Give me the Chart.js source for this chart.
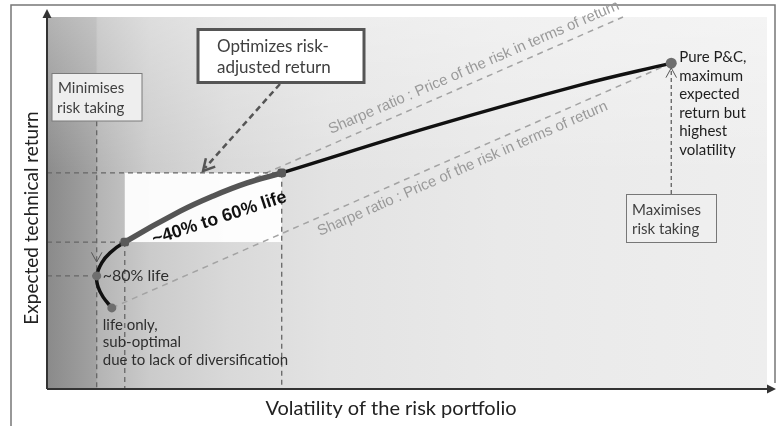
<!DOCTYPE html>
<html>
<head>
<meta charset="utf-8">
<script src="https://cdn.jsdelivr.net/npm/chart.js@4.4.1/dist/chart.umd.min.js"></script>
<style>
    html, body { margin: 0; padding: 0; background: #ffffff; }
    #wrap { width: 783px; height: 426px; position: relative; }
</style>
</head>
<body>
<div id="wrap"><canvas id="frontierChart"></canvas></div>
<script>
// Titik-titik kurva frontier (satuan abstrak 0-100, tanpa tick)
const frontierVol = [9.0, 7.8, 7.1, 6.9, 7.6, 8.75, 10.8, 18.5, 23.1, 27.8, 32.6, 53.2, 74.0, 86.7];
const frontierRet = [21.8, 24.7, 27.4, 30.4, 33.9, 36.6, 39.5, 47.8, 51.9, 55.4, 58.1, 70.4, 81.7, 87.6];
// Indeks titik penting pada kurva
const IDX_LIFE = 0, IDX_80 = 3, IDX_40 = 6, IDX_60 = 10, IDX_PC = 13;

// Garis Sharpe ratio (atas dan bawah)
const sharpeHighVol = [26.1, 80.0];
const sharpeHighRet = [54.4, 100.0];
const sharpeLowVol = [9.0, 86.7];
const sharpeLowRet = [21.8, 87.6];

// Garis bantu putus-putus
const guideVol = [6.9, 10.8, 32.6];
const guideRet = [30.4, 39.5, 58.1];
const guideVolTop = [72.0, 39.5, 58.1];
const pcGuideRet = [52.4, 86.3];

const FONT = 'Lato, "Open Sans", sans-serif';

const pts = (xs, ys) => xs.map((v, i) => ({ x: v, y: ys[i] }));
const inMid = i => i >= IDX_40 && i < IDX_60;

const datasets = [];

// Kurva utama, bagian 40%-60% lebih tebal dan abu-abu
datasets.push({
    data: pts(frontierVol, frontierRet),
    showLine: true,
    tension: 0.4,
    order: 0,
    clip: false,
    borderColor: '#111111',
    borderWidth: 3.5,
    segment: {
        borderColor: c => inMid(c.p0DataIndex) ? '#555555' : '#111111',
        borderWidth: c => inMid(c.p0DataIndex) ? 5.5 : 3.5
    },
    pointRadius: frontierVol.map((_, i) => [IDX_LIFE, IDX_80].includes(i) ? 4.5 : ([IDX_40, IDX_60].includes(i) ? 5 : (i === IDX_PC ? 5.5 : 0))),
    pointStyle: frontierVol.map((_, i) => [IDX_40, IDX_60].includes(i) ? 'rectRounded' : 'circle'),
    pointBackgroundColor: frontierVol.map((_, i) => [IDX_40, IDX_60].includes(i) ? '#595959' : '#6e6e6e'),
    pointBorderWidth: 0
});

// Garis Sharpe ratio
[[sharpeHighVol, sharpeHighRet], [sharpeLowVol, sharpeLowRet]].forEach(([xs, ys]) => {
    datasets.push({
        data: pts(xs, ys), showLine: true, order: 3, clip: false,
        borderColor: '#a3a3a3', borderWidth: 1.5, borderDash: [6, 5], pointRadius: 0
    });
});

// Garis bantu horizontal dan vertikal
guideVol.forEach((v, i) => {
    datasets.push({
        data: [{ x: 0, y: guideRet[i] }, { x: v, y: guideRet[i] }], showLine: true, order: 2,
        borderColor: '#666666', borderWidth: 1.3, borderDash: [5, 4], pointRadius: 0
    });
    datasets.push({
        data: [{ x: v, y: guideVolTop[i] }, { x: v, y: 0 }], showLine: true, order: 2,
        borderColor: '#666666', borderWidth: 1.3, borderDash: [5, 4], pointRadius: 0
    });
});
datasets.push({
    data: pcGuideRet.map(r => ({ x: frontierVol[IDX_PC], y: r })), showLine: true, order: 2,
    borderColor: '#555555', borderWidth: 1.2, borderDash: [4, 3], pointRadius: 0
});

// Latar gradien dan area putih untuk rentang 40%-60%
const backdrop = {
    id: 'backdrop',
    beforeDatasetsDraw(chart) {
        const { ctx, chartArea: a, scales: { x, y } } = chart;
        ctx.save();
        const w = a.right - a.left;
        const g = ctx.createLinearGradient(a.left, 0, a.right, 0);
        const stop = px => Math.min(1, Math.max(0, (px - a.left) / w));
        g.addColorStop(0, '#8a8a8a');
        g.addColorStop(stop(x.getPixelForValue(guideVol[0]) - 1), '#a2a2a2');
        g.addColorStop(stop(x.getPixelForValue(guideVol[0]) + 1), '#b4b4b4');
        g.addColorStop(stop(150), '#cbcbcb');
        g.addColorStop(stop(230), '#d9d9d9');
        g.addColorStop(stop(330), '#e3e3e3');
        g.addColorStop(stop(500), '#e9e9e9');
        g.addColorStop(1, '#eeeeee');
        ctx.fillStyle = g;
        ctx.fillRect(a.left, a.top, w, a.bottom - a.top);
        const v = ctx.createLinearGradient(0, a.top, 0, a.top + 160);
        v.addColorStop(0, 'rgba(255,255,255,0.35)');
        v.addColorStop(1, 'rgba(255,255,255,0)');
        ctx.fillStyle = v;
        ctx.fillRect(a.left, a.top, w, 160);

        const x0 = x.getPixelForValue(frontierVol[IDX_40]);
        const x1 = x.getPixelForValue(frontierVol[IDX_60]);
        const y0 = y.getPixelForValue(frontierRet[IDX_40]);
        const y1 = y.getPixelForValue(frontierRet[IDX_60]);
        ctx.fillStyle = 'rgba(255,255,255,0.93)';
        ctx.fillRect(x0, y1, x1 - x0, y0 - y1);

        // Bingkai luar gambar
        ctx.strokeStyle = '#777777';
        ctx.lineWidth = 1.5;
        ctx.beginPath();
        ctx.moveTo(11, 426); ctx.lineTo(11, 5); ctx.lineTo(775, 5); ctx.lineTo(775, 383);
        ctx.stroke();
        ctx.restore();
    }
};

// Menggambar panah terbuka berbentuk V.
function openArrow(ctx, tx, ty, angle, len) {
    const s = 0.5;
    ctx.beginPath();
    ctx.moveTo(tx - len * Math.cos(angle - s), ty - len * Math.sin(angle - s));
    ctx.lineTo(tx, ty);
    ctx.lineTo(tx - len * Math.cos(angle + s), ty - len * Math.sin(angle + s));
    ctx.stroke();
}

function rotText(ctx, text, px, py, deg) {
    ctx.save();
    ctx.translate(px, py);
    ctx.rotate(deg * Math.PI / 180);
    ctx.fillText(text, 0, 0);
    ctx.restore();
}

function box(ctx, bx, by, bw, bh, fill, stroke, lw) {
    ctx.fillStyle = fill;
    ctx.fillRect(bx, by, bw, bh);
    ctx.strokeStyle = stroke;
    ctx.lineWidth = lw;
    ctx.strokeRect(bx, by, bw, bh);
}

// Label, kotak keterangan dan sumbu dengan panah
const annotations = {
    id: 'annotations',
    afterDatasetsDraw(chart) {
        const { ctx, chartArea: a, scales: { x, y } } = chart;
        ctx.save();

        // Teks Sharpe ratio sejajar garis
        ctx.fillStyle = '#999999';
        ctx.font = '15px "Liberation Sans", Arial, sans-serif';
        ctx.textAlign = 'left';
        ctx.textBaseline = 'alphabetic';
        const sharpe = 'Sharpe ratio : Price of the risk in terms of return';
        rotText(ctx, sharpe, 331, 134, -23.4);
        rotText(ctx, sharpe, 320, 236, -23.7);

        // Label rentang 40%-60%
        ctx.fillStyle = '#111111';
        ctx.font = 'bold 18px "Liberation Sans", Arial, sans-serif';
        ctx.textAlign = 'center';
        rotText(ctx, '~40% to 60% life', 221, 223, -18);

        // Label titik kurva
        ctx.textAlign = 'left';
        ctx.fillStyle = '#2e2e2e';
        ctx.font = '16px ' + FONT;
        const p80x = x.getPixelForValue(frontierVol[IDX_80]);
        const p80y = y.getPixelForValue(frontierRet[IDX_80]);
        ctx.fillText('~80% life', p80x + 6, p80y + 5.5);

        ctx.font = '15px ' + FONT;
        const lx = x.getPixelForValue(frontierVol[IDX_LIFE]) - 9;
        const ly = y.getPixelForValue(frontierRet[IDX_LIFE]);
        ['life only,', 'sub-optimal', 'due to lack of diversification'].forEach((t, i) => {
            ctx.fillText(t, lx, ly + 22 + i * 17.5);
        });

        const pcx = x.getPixelForValue(frontierVol[IDX_PC]);
        const pcy = y.getPixelForValue(frontierRet[IDX_PC]);
        ctx.fillStyle = '#1e1e1e';
        ['Pure P&C,', 'maximum', 'expected', 'return but', 'highest', 'volatility'].forEach((t, i) => {
            ctx.fillText(t, pcx + 8, pcy - 1 + i * 18.5);
        });

        // Panah pada garis bantu
        ctx.strokeStyle = '#555555';
        ctx.lineWidth = 1;
        openArrow(ctx, p80x, 262, Math.PI / 2, 11);
        openArrow(ctx, pcx, y.getPixelForValue(pcGuideRet[1]), -Math.PI / 2, 11);

        // Kotak "Minimises risk taking"
        box(ctx, 52, 73.5, 90, 47.5, '#eeeeee', '#7a7a7a', 1);
        ctx.fillStyle = '#404040';
        ctx.fillText('Minimises', 58, 93);
        ctx.fillText('risk taking', 57, 113);

        // Kotak "Maximises risk taking"
        box(ctx, 626.5, 194.5, 90, 48, '#efefef', '#777777', 1);
        ctx.fillStyle = '#404040';
        ctx.fillText('Maximises', 632, 215);
        ctx.fillText('risk taking', 632, 234);

        // Kotak "Optimizes risk-adjusted return" dan panahnya
        ctx.setLineDash([6, 4]);
        ctx.strokeStyle = '#555555';
        ctx.lineWidth = 2.5;
        ctx.beginPath();
        ctx.moveTo(280, 84);
        ctx.lineTo(205, 168);
        ctx.stroke();
        ctx.setLineDash([]);
        openArrow(ctx, 203, 171, Math.atan2(171 - 84, 203 - 280), 13);
        box(ctx, 198, 29.5, 166, 53, '#ffffff', '#555555', 3);
        ctx.fillStyle = '#404040';
        ctx.font = '17px ' + FONT;
        ctx.fillText('Optimizes risk-', 217, 51.5);
        ctx.fillText('adjusted return', 217, 73);

        // Sumbu dengan ujung panah
        ctx.strokeStyle = '#333333';
        ctx.fillStyle = '#333333';
        ctx.lineWidth = 2;
        ctx.beginPath();
        ctx.moveTo(a.left, a.bottom);
        ctx.lineTo(a.left, 15);
        ctx.moveTo(a.left, a.bottom);
        ctx.lineTo(769, a.bottom);
        ctx.stroke();
        ctx.beginPath();
        ctx.moveTo(a.left, 9); ctx.lineTo(a.left - 4.5, 18); ctx.lineTo(a.left + 4.5, 18); ctx.closePath();
        ctx.fill();
        ctx.beginPath();
        ctx.moveTo(776, a.bottom); ctx.lineTo(767, a.bottom - 4.5); ctx.lineTo(767, a.bottom + 4.5); ctx.closePath();
        ctx.fill();

        // Judul sumbu
        ctx.fillStyle = '#222222';
        ctx.font = '20px ' + FONT;
        ctx.textAlign = 'center';
        ctx.fillText('Volatility of the risk portfolio', 391, 415);
        ctx.save();
        ctx.translate(38, 218);
        ctx.rotate(-Math.PI / 2);
        ctx.font = '19px ' + FONT;
        ctx.fillText('Expected technical return', 0, 0);
        ctx.restore();

        ctx.restore();
    }
};

document.addEventListener('DOMContentLoaded', function () {
    const canvas = document.getElementById('frontierChart');
    new Chart(canvas.getContext('2d'), {
        type: 'scatter',
        data: { datasets: datasets },
        plugins: [backdrop, annotations],
        options: {
            responsive: true,
            maintainAspectRatio: false,
            animation: false,
            layout: { padding: { left: 47, right: 16, top: 17, bottom: 37 } },
            scales: {
                x: { type: 'linear', min: 0, max: 100, display: false },
                y: { type: 'linear', min: 0, max: 100, display: false }
            },
            plugins: {
                legend: { display: false },
                tooltip: { enabled: false }
            }
        }
    });
});
</script>
</body>
</html>
